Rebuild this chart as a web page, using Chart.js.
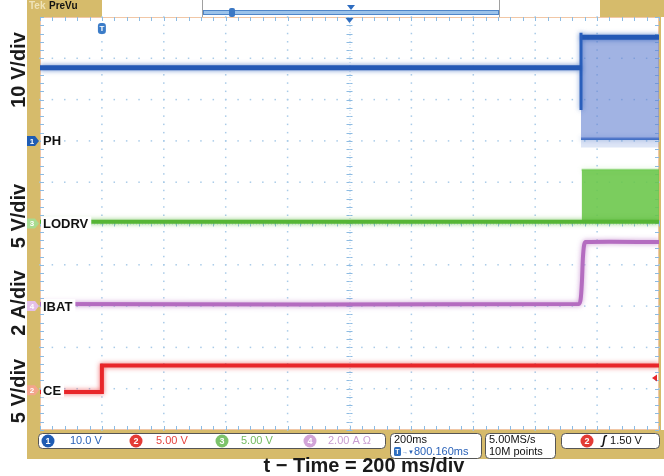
<!DOCTYPE html>
<html>
<head>
<meta charset="utf-8">
<script src="https://cdn.jsdelivr.net/npm/chart.js@4/dist/chart.umd.min.js"></script>
<style>
  html, body { margin: 0; padding: 0; background: #ffffff; }
  #wrap { width: 664px; height: 476px; position: relative; }
</style>
</head>
<body>
<div id="wrap"><canvas id="scope" width="664" height="476"></canvas></div>
<script>
// ---- channel descriptions ----
const channelNames  = ['PH', 'LODRV', 'IBAT', 'CE'];
const channelTitles = ['10 V/div', '5 V/div', '2 A/div', '5 V/div'];
const channelReadouts = ['10.0 V', '5.00 V', '5.00 V', '2.00 A \u03A9'];
const timeTitle = 't \u2212 Time = 200 ms/div';

// ---- time base (ms), trigger at t = 0 ----
const timeMin = -200, timeMax = 1800, timeDiv = 200;

// ---- PH (switch node), volts ----
const phTime  = [-200, 1548];
const phVolts = [17.7, 17.7];
const phBandTime = [1548, 1800];
const phBandHigh = [25.1, 25.1];
const phBandLow  = [0.5, 0.5];
const phBandTail = [-1.6, -1.6];
const phEdgeTime  = [1548, 1548];
const phEdgeVolts = [26.2, 7.5];

// ---- LODRV (low-side gate drive), volts ----
const lodrvTime  = [-200, 1800];
const lodrvVolts = [0.2, 0.2];
const lodrvBandTime = [1550, 1800];
const lodrvBandHigh = [6.5, 6.5];
const lodrvBandLow  = [0.2, 0.2];

// ---- IBAT (battery current), amps ----
const ibatTime = [-200, 1541, 1547, 1551, 1554, 1558, 1563, 1800];
const ibatAmps = [0.1, 0.1, 0.35, 1.2, 2.3, 2.95, 3.1, 3.1];

// ---- CE (charge enable), volts ----
const ceTime  = [-200, 0, 0, 1800];
const ceVolts = [-0.2, -0.2, 3.0, 3.0];

// ---- trigger ----
const trigTime = 0;
const trigLevel = 1.5;

const pts = (xs, ys) => xs.map((x, i) => ({ x: x, y: ys[i] }));

const FONT = "'Liberation Sans', Arial, sans-serif";
const GOLD = '#d6bb6b';
const C_PH = '#2459b5', C_LO = '#55b534', C_IB = '#b46cc0', C_CE = '#e8262a';

// soft phosphor glow on each trace
const glowPlugin = {
  id: 'glow',
  beforeDatasetDraw(chart, args) {
    const ds = chart.data.datasets[args.index];
    chart.ctx.save();
    if (ds.glow) { chart.ctx.shadowColor = ds.glow; chart.ctx.shadowBlur = 5; }
  },
  afterDatasetDraw(chart) { chart.ctx.restore(); }
};

function roundBox(ctx, x, y, w, h, r, fill, stroke) {
  ctx.beginPath();
  ctx.roundRect(x, y, w, h, r);
  if (fill) { ctx.fillStyle = fill; ctx.fill(); }
  if (stroke) { ctx.strokeStyle = stroke; ctx.lineWidth = 1; ctx.stroke(); }
}

function chTag(ctx, x, y, fill, label, textColor) {
  // channel ground-level tag on the left edge
  ctx.beginPath();
  ctx.moveTo(x, y - 5);
  ctx.lineTo(x + 8, y - 5);
  ctx.lineTo(x + 12, y);
  ctx.lineTo(x + 8, y + 5);
  ctx.lineTo(x, y + 5);
  ctx.closePath();
  ctx.fillStyle = fill; ctx.fill();
  ctx.fillStyle = textColor;
  ctx.font = 'bold 8px ' + FONT;
  ctx.textAlign = 'center'; ctx.textBaseline = 'middle';
  ctx.fillText(label, x + 5, y + 0.5);
}

function chCircle(ctx, x, y, fill, label) {
  ctx.beginPath(); ctx.arc(x, y, 6.5, 0, Math.PI * 2);
  ctx.fillStyle = fill; ctx.fill();
  ctx.fillStyle = '#ffffff';
  ctx.font = 'bold 9px ' + FONT;
  ctx.textAlign = 'center'; ctx.textBaseline = 'middle';
  ctx.fillText(label, x, y + 0.5);
}

const framePlugin = {
  id: 'scopeFrame',
  beforeDraw(chart) {
    const ctx = chart.ctx, a = chart.chartArea;
    ctx.save();
    ctx.fillStyle = '#ffffff';
    ctx.fillRect(0, 0, chart.width, chart.height);
    // bezel strips
    ctx.fillStyle = GOLD;
    ctx.fillRect(27, 0, a.left - 27, a.bottom);
    ctx.fillRect(27, 0, 75, a.top);
    ctx.fillRect(600, 0, 64, a.top);
    ctx.fillRect(27, a.bottom, 664 - 27, 29);
    ctx.fillRect(a.right, a.top, 2, a.bottom - a.top);
    // PreVu banner
    ctx.font = 'bold 10px ' + FONT;
    ctx.textAlign = 'left'; ctx.textBaseline = 'middle';
    ctx.fillStyle = '#efe3b8';
    ctx.fillText('Tek', 29, 6);
    ctx.fillStyle = '#111111';
    ctx.fillText('PreVu', 49, 6);
    // record overview bracket
    ctx.strokeStyle = '#a0a0a0'; ctx.lineWidth = 1;
    ctx.beginPath();
    ctx.moveTo(202.5, 0); ctx.lineTo(202.5, a.top);
    ctx.moveTo(499.5, 0); ctx.lineTo(499.5, a.top);
    ctx.stroke();
    ctx.fillStyle = '#9cc3ea';
    ctx.fillRect(203, 11, 296, 3);
    ctx.strokeStyle = '#4f86c9';
    ctx.strokeRect(203.5, 10.5, 295, 4);
    roundBox(ctx, 229, 8, 6, 9, 2, '#3b78c4', null);
    ctx.fillStyle = '#2d6cc0';
    ctx.beginPath(); ctx.moveTo(347, 5); ctx.lineTo(355, 5); ctx.lineTo(351, 10); ctx.closePath(); ctx.fill();
    ctx.restore();
  },
  beforeDatasetsDraw(chart) {
    const ctx = chart.ctx, a = chart.chartArea;
    const xs = chart.scales.x, ys = chart.scales.yDiv;
    ctx.save();
    // plot border
    ctx.strokeStyle = '#f1c7a6'; ctx.lineWidth = 1;
    ctx.strokeRect(a.left + 0.5, a.top + 0.5, a.right - a.left - 1, a.bottom - a.top - 1);
    const xMinor = [], yMinor = [];
    for (let t = timeMin; t <= timeMax + 1e-6; t += timeDiv / 5) xMinor.push(t);
    for (let d = 0; d <= 10 + 1e-6; d += 0.2) yMinor.push(d);
    const xc = xs.getPixelForValue((timeMin + timeMax) / 2);
    const yc = ys.getPixelForValue(5);
    ctx.fillStyle = '#a9cbe8';
    // dotted division lines
    for (let t = timeMin + timeDiv; t < timeMax - 1; t += timeDiv) {
      const px = xs.getPixelForValue(t);
      if (Math.abs(px - xc) < 1) continue;
      yMinor.forEach(d => ctx.fillRect(px - 0.75, ys.getPixelForValue(d) - 0.75, 1.5, 1.5));
    }
    for (let d = 1; d < 10; d++) {
      if (d === 5) continue;
      const py = ys.getPixelForValue(d);
      xMinor.forEach(t => ctx.fillRect(xs.getPixelForValue(t) - 0.75, py - 0.75, 1.5, 1.5));
    }
    // centre crosshair with minor ticks
    ctx.strokeStyle = '#8dbbe2'; ctx.lineWidth = 1;
    ctx.beginPath();
    yMinor.forEach(d => { const py = Math.round(ys.getPixelForValue(d)) + 0.5; ctx.moveTo(xc - 3, py); ctx.lineTo(xc + 3, py); });
    xMinor.forEach(t => { const px = Math.round(xs.getPixelForValue(t)) + 0.5; ctx.moveTo(px, yc - 3); ctx.lineTo(px, yc + 3); });
    // edge ticks
    yMinor.forEach(d => { const py = Math.round(ys.getPixelForValue(d)) + 0.5; ctx.moveTo(a.left, py); ctx.lineTo(a.left + 4, py); ctx.moveTo(a.right - 4, py); ctx.lineTo(a.right, py); });
    xMinor.forEach(t => { const px = Math.round(xs.getPixelForValue(t)) + 0.5; ctx.moveTo(px, a.top); ctx.lineTo(px, a.top + 4); ctx.moveTo(px, a.bottom - 4); ctx.lineTo(px, a.bottom); });
    ctx.stroke();
    ctx.setLineDash([1, 2]);
    ctx.strokeStyle = '#b8d4ee';
    ctx.beginPath();
    ctx.moveTo(xc + 0.5, a.top); ctx.lineTo(xc + 0.5, a.bottom);
    ctx.moveTo(a.left, yc + 0.5); ctx.lineTo(a.right, yc + 0.5);
    ctx.stroke();
    ctx.restore();
  },
  afterDatasetsDraw(chart) {
    const ctx = chart.ctx, a = chart.chartArea, s = chart.scales;
    ctx.save();
    const grounds = [s.yPH.getPixelForValue(0), s.yLO.getPixelForValue(0), s.yIB.getPixelForValue(0), s.yCE.getPixelForValue(0)];
    // channel names on white plates
    ctx.font = 'bold 13px ' + FONT;
    ctx.textAlign = 'left'; ctx.textBaseline = 'middle';
    channelNames.forEach((n, i) => {
      const w = ctx.measureText(n).width;
      ctx.fillStyle = '#ffffff';
      ctx.fillRect(a.left + 1, grounds[i] - 7, w + 5, 14);
      ctx.fillStyle = '#111111';
      ctx.fillText(n, a.left + 3, grounds[i] + 1);
    });
    // ground tags
    chTag(ctx, 27, grounds[0], '#1f5cb3', '1', '#ffffff');
    chTag(ctx, 27, grounds[1], '#a9dc8f', '3', '#ffffff');
    chTag(ctx, 27, grounds[2], '#e4bfe8', '4', '#ffffff');
    chTag(ctx, 27, grounds[3], '#f3a58c', '2', '#ffffff');
    // trigger position tag
    const tx = s.x.getPixelForValue(trigTime);
    roundBox(ctx, tx - 4, a.top + 6, 8, 11, 3, '#3b7cc8', null);
    ctx.fillStyle = '#ffffff';
    ctx.font = 'bold 8px ' + FONT; ctx.textAlign = 'center';
    ctx.fillText('T', tx, a.top + 12);
    // expansion point marker
    const xc = s.x.getPixelForValue((timeMin + timeMax) / 2);
    ctx.fillStyle = '#2d6cc0';
    ctx.beginPath(); ctx.moveTo(xc - 4, a.top + 1); ctx.lineTo(xc + 4, a.top + 1); ctx.lineTo(xc, a.top + 6); ctx.closePath(); ctx.fill();
    // trigger level arrow
    const ty = s.yCE.getPixelForValue(trigLevel);
    ctx.fillStyle = '#e8262a';
    ctx.beginPath(); ctx.moveTo(a.right - 7, ty); ctx.lineTo(a.right - 2, ty - 3.5); ctx.lineTo(a.right - 2, ty + 3.5); ctx.closePath(); ctx.fill();
    ctx.restore();
  },
  afterDraw(chart) {
    const ctx = chart.ctx;
    ctx.save();
    // vertical scale titles
    ctx.font = 'bold 20px ' + FONT;
    ctx.fillStyle = '#1a1a1a';
    ctx.textAlign = 'center'; ctx.textBaseline = 'middle';
    const titleY = [70, 216, 303, 391];
    channelTitles.forEach((t, i) => {
      ctx.save();
      ctx.translate(19, titleY[i]);
      ctx.rotate(-Math.PI / 2);
      ctx.fillText(t, 0, 0);
      ctx.restore();
    });
    // readout boxes
    roundBox(ctx, 38.5, 433.5, 347, 15, 4, '#ffffff', '#555555');
    roundBox(ctx, 390.5, 433.5, 91, 25, 4, '#ffffff', '#555555');
    roundBox(ctx, 485.5, 433.5, 70, 25, 4, '#ffffff', '#555555');
    roundBox(ctx, 561.5, 433.5, 98, 15, 4, '#ffffff', '#555555');
    chCircle(ctx, 48, 441, '#1f5cb3', '1');
    chCircle(ctx, 136, 441, '#e33a35', '2');
    chCircle(ctx, 222, 441, '#7cc36b', '3');
    chCircle(ctx, 310, 441, '#d2a4d8', '4');
    ctx.font = '11px ' + FONT;
    ctx.textAlign = 'left'; ctx.textBaseline = 'middle';
    const rdX = [70, 156, 241, 328];
    const rdC = ['#2a62b8', '#e5433d', '#72bb5f', '#c99dd2'];
    channelReadouts.forEach((t, i) => { ctx.fillStyle = rdC[i]; ctx.fillText(t, rdX[i], 441); });
    ctx.fillStyle = '#111111';
    ctx.fillText('200ms', 394, 440);
    ctx.fillText('5.00MS/s', 489, 440);
    ctx.fillText('10M points', 489, 452);
    roundBox(ctx, 394, 447, 7, 9, 1.5, '#2f6fc0', null);
    ctx.fillStyle = '#ffffff';
    ctx.font = 'bold 7px ' + FONT; ctx.textAlign = 'center';
    ctx.fillText('T', 397.5, 452);
    ctx.textAlign = 'left';
    ctx.fillStyle = '#2a62b8';
    ctx.font = '6px ' + FONT;
    ctx.fillText('\u2192\u25BC', 402, 452);
    ctx.font = '11px ' + FONT;
    ctx.fillText('800.160ms', 414, 452);
    chCircle(ctx, 587, 441, '#e33a35', '2');
    ctx.fillStyle = '#111111';
    ctx.font = 'italic bold 12px ' + FONT;
    ctx.fillText('\u0283', 604, 441);
    ctx.font = '11px ' + FONT;
    ctx.fillText('1.50 V', 626, 441);
    // time-base title
    ctx.font = 'bold 20px ' + FONT;
    ctx.fillStyle = '#1a1a1a';
    ctx.textAlign = 'center';
    ctx.fillText(timeTitle, 364, 466);
    ctx.restore();
  }
};

const hidden = (min, max) => ({ type: 'linear', min: min, max: max, display: false });

new Chart(document.getElementById('scope'), {
  type: 'line',
  data: {
    datasets: [
      // CE
      { data: pts(ceTime, ceVolts), yAxisID: 'yCE', borderColor: C_CE, glow: 'rgba(232,38,42,0.7)', borderWidth: 4, order: 1 },
      // IBAT
      { data: pts(ibatTime, ibatAmps), yAxisID: 'yIB', borderColor: C_IB, glow: 'rgba(180,108,192,0.7)', borderWidth: 4, tension: 0.25, order: 2 },
      // LODRV baseline and switching band
      { data: pts(lodrvTime, lodrvVolts), yAxisID: 'yLO', borderColor: C_LO, glow: 'rgba(85,181,52,0.7)', borderWidth: 4, order: 3 },
      { data: pts(lodrvBandTime, lodrvBandLow), yAxisID: 'yLO', borderColor: 'rgba(0,0,0,0)', borderWidth: 0, order: 5 },
      { data: pts(lodrvBandTime, lodrvBandHigh), yAxisID: 'yLO', borderColor: 'rgba(110,200,80,0.6)', borderWidth: 2, glow: 'rgba(110,200,80,0.5)',
        fill: { target: 3 }, backgroundColor: 'rgba(105,198,72,0.88)', order: 4 },
      // PH baseline, switching edge and band
      { data: pts(phTime, phVolts), yAxisID: 'yPH', borderColor: C_PH, glow: 'rgba(36,89,181,0.7)', borderWidth: 5, order: 6 },
      { data: pts(phEdgeTime, phEdgeVolts), yAxisID: 'yPH', borderColor: '#2a5fbc', glow: 'rgba(36,89,181,0.6)', borderWidth: 3, order: 7 },
      { data: pts(phBandTime, phBandHigh), yAxisID: 'yPH', borderColor: C_PH, glow: 'rgba(36,89,181,0.7)', borderWidth: 5,
        fill: { target: 8 }, backgroundColor: 'rgba(98,128,208,0.6)', order: 8 },
      { data: pts(phBandTime, phBandLow), yAxisID: 'yPH', borderColor: 'rgba(45,95,190,0.85)', glow: 'rgba(36,89,181,0.5)', borderWidth: 2.5, order: 9 },
      { data: pts(phBandTime, phBandTail), yAxisID: 'yPH', borderColor: 'rgba(0,0,0,0)', borderWidth: 0,
        fill: { target: 8 }, backgroundColor: 'rgba(120,150,220,0.25)', order: 10 }
    ]
  },
  options: {
    responsive: false,
    animation: false,
    layout: { padding: { left: 40, top: 17, right: 5, bottom: 46 } },
    elements: { point: { radius: 0, hoverRadius: 0 }, line: { tension: 0, capBezierPoints: true } },
    plugins: { legend: { display: false }, tooltip: { enabled: false } },
    events: [],
    scales: {
      x: hidden(timeMin, timeMax),
      yPH: hidden(-70, 30),
      yLO: hidden(-25, 25),
      yIB: hidden(-6, 14),
      yCE: hidden(-4.8, 45.2),
      yDiv: hidden(0, 10)
    }
  },
  plugins: [glowPlugin, framePlugin]
});
</script>
</body>
</html>
